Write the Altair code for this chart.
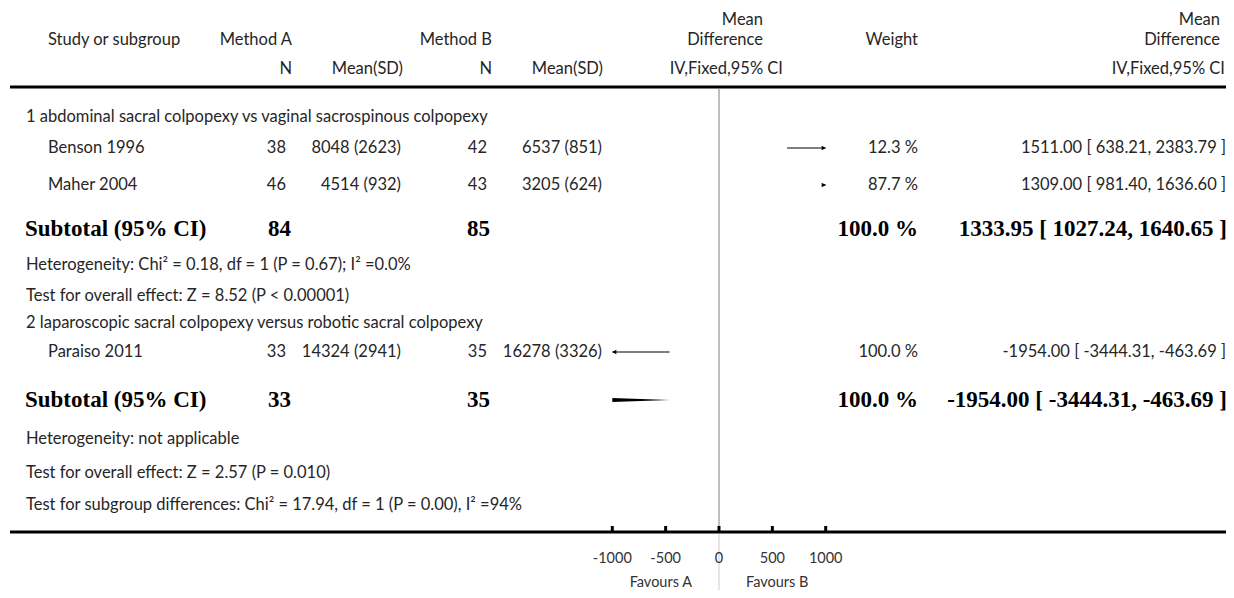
import altair as alt
import pandas as pd

# ---------------- data ----------------
STUDY = ["Benson 1996", "Maher 2004", "Paraiso 2011"]
N_A = [38, 46, 33]
MEANSD_A = ["8048 (2623)", "4514 (932)", "14324 (2941)"]
N_B = [42, 43, 35]
MEANSD_B = ["6537 (851)", "3205 (624)", "16278 (3326)"]
MD = [1511.00, 1309.00, -1954.00]
LO = [638.21, 981.40, -3444.31]
HI = [2383.79, 1636.60, -463.69]
WEIGHT = [12.3, 87.7, 100.0]

SUB_LABEL = ["Subtotal (95% CI)", "Subtotal (95% CI)"]
SUB_N_A = [84, 33]
SUB_N_B = [85, 35]
SUB_WEIGHT = [100.0, 100.0]
SUB_MD = [1333.95, -1954.00]
SUB_LO = [1027.24, -3444.31]
SUB_HI = [1640.65, -463.69]

GROUP_TITLES = ["1 abdominal sacral colpopexy vs vaginal sacrospinous colpopexy",
                "2 laparoscopic sacral colpopexy versus robotic sacral colpopexy"]
HETEROGENEITY = ["Heterogeneity: Chi\u00b2 = 0.18, df = 1 (P = 0.67); I\u00b2 =0.0%",
                 "Heterogeneity: not applicable"]
OVERALL = ["Test for overall effect: Z = 8.52 (P < 0.00001)",
           "Test for overall effect: Z = 2.57 (P = 0.010)"]
SUBGROUP_TEST = "Test for subgroup differences: Chi\u00b2 = 17.94, df = 1 (P = 0.00), I\u00b2 =94%"
TICKS = [-1000, -500, 0, 500, 1000]
XLIM = [-1000, 1000]
FAVOURS = ["Favours A", "Favours B"]

# ---------------- layout (page pixel coordinates) ----------------
OFF = 8
W, H = 1218, 582
STUDY_Y = [148, 185, 352]
SUB_Y = [229, 400]
TITLE_Y = [117, 323]
HET_Y = [265, 439]
OVERALL_Y = [296, 473]
SUBTEST_Y = 505
AXIS_Y = 532
TOP_Y = 87
X_LEFT_SEC, X_LEFT_STUDY = 26, 48
X_NA, X_MA, X_NB, X_MB = 286, 401, 487, 602
X_WT, X_CI = 918, 1226
SANS = "Lato"
SERIF = "Liberation Serif"
FS, FB, FT = 16.5, 23, 14.5
TXT = "#262626"

xscale = alt.Scale(domain=XLIM, range=[612.3 - OFF, 825.7 - OFF], clamp=True)


def p(v):
    return v - OFF


def text_layer(rows, align, font=SANS, size=FS, weight="normal", color=TXT):
    df = pd.DataFrame(rows, columns=["text", "x", "y"])
    df["x"] = df["x"] - OFF
    df["y"] = df["y"] - OFF
    return alt.Chart(df).mark_text(
        align=align, baseline="middle", font=font, fontSize=size,
        fontWeight=weight, color=color
    ).encode(
        x=alt.X("x:Q", scale=None, axis=None),
        y=alt.Y("y:Q", scale=None, axis=None),
        text="text:N",
    )


# header
hdr_left = [["Study or subgroup", 48, 40]]
hdr_right = [["Method A", 292, 40], ["Method B", 492, 40],
             ["N", 292, 69], ["Mean(SD)", 403, 69], ["N", 492, 69], ["Mean(SD)", 603, 69],
             ["Mean", 763, 20], ["Difference", 763, 40], ["IV,Fixed,95% CI", 783, 69],
             ["Weight", X_WT, 40],
             ["Mean", 1220, 20], ["Difference", 1220, 40], ["IV,Fixed,95% CI", 1225, 69]]

left_rows = []
right_rows = []
for i, s in enumerate(STUDY):
    y = STUDY_Y[i]
    left_rows.append([s, X_LEFT_STUDY, y])
    right_rows += [[str(N_A[i]), X_NA, y], [MEANSD_A[i], X_MA, y],
                   [str(N_B[i]), X_NB, y], [MEANSD_B[i], X_MB, y],
                   [f"{WEIGHT[i]:.1f} %", X_WT, y],
                   [f"{MD[i]:.2f} [ {LO[i]:.2f}, {HI[i]:.2f} ]", X_CI, y]]
for g in range(2):
    left_rows += [[GROUP_TITLES[g], X_LEFT_SEC, TITLE_Y[g]],
                  [HETEROGENEITY[g], X_LEFT_SEC, HET_Y[g]],
                  [OVERALL[g], X_LEFT_SEC, OVERALL_Y[g]]]
left_rows.append([SUBGROUP_TEST, X_LEFT_SEC, SUBTEST_Y])

bold_left = []
bold_right = []
for g in range(2):
    y = SUB_Y[g]
    bold_left.append([SUB_LABEL[g], 25, y])
    bold_right += [[str(SUB_N_A[g]), 291, y], [str(SUB_N_B[g]), 490, y],
                   [f"{SUB_WEIGHT[g]:.1f} %", X_WT, y],
                   [f"{SUB_MD[g]:.2f} [ {SUB_LO[g]:.2f}, {SUB_HI[g]:.2f} ]", X_CI + 1, y]]

layers = [
    text_layer(hdr_left, "left"),
    text_layer(hdr_right, "right"),
    text_layer(left_rows, "left"),
    text_layer(right_rows, "right"),
    text_layer(bold_left, "left", SERIF, FB, "bold", "black"),
    text_layer(bold_right, "right", SERIF, FB, "bold", "black"),
]

# horizontal rules (top and axis line)
hl = pd.DataFrame({"y": [p(TOP_Y), p(AXIS_Y)]})
layers.append(alt.Chart(hl).mark_rule(color="black", strokeWidth=3).encode(
    x=alt.value(2), x2=alt.value(W), y=alt.Y("y:Q", scale=None, axis=None)))

# zero line
zero = pd.DataFrame({"v": [0], "y1": [p(TOP_Y + 2)], "y2": [p(AXIS_Y)]})
layers.append(alt.Chart(zero).mark_rule(color="#a8a8a8", strokeWidth=1.5).encode(
    x=alt.X("v:Q", scale=xscale, axis=None),
    y=alt.Y("y1:Q", scale=None, axis=None), y2="y2:Q"))
zero2 = pd.DataFrame({"v": [0], "y1": [p(AXIS_Y + 2)], "y2": [H]})
layers.append(alt.Chart(zero2).mark_rule(color="#dedede", strokeWidth=1.5).encode(
    x=alt.X("v:Q", scale=xscale, axis=None),
    y=alt.Y("y1:Q", scale=None, axis=None), y2="y2:Q"))

# ticks and tick labels
tk = pd.DataFrame({"t": TICKS, "lab": [str(t) for t in TICKS],
                   "y1": p(AXIS_Y - 6), "y2": p(AXIS_Y), "ly": p(559)})
layers.append(alt.Chart(tk).mark_rule(color="black", strokeWidth=3).encode(
    x=alt.X("t:Q", scale=xscale, axis=None),
    y=alt.Y("y1:Q", scale=None, axis=None), y2="y2:Q"))
layers.append(alt.Chart(tk).mark_text(font=SANS, fontSize=FT, color="#333333",
                                      baseline="middle").encode(
    x=alt.X("t:Q", scale=xscale, axis=None),
    y=alt.Y("ly:Q", scale=None, axis=None), text="lab:N"))

fav = pd.DataFrame({"text": FAVOURS, "x": [p(692), p(746)], "y": [p(583), p(583)]})
layers.append(alt.Chart(fav.iloc[[0]]).mark_text(font=SANS, fontSize=FT, color="#333333",
                                                 align="right", baseline="middle").encode(
    x=alt.X("x:Q", scale=None, axis=None), y=alt.Y("y:Q", scale=None, axis=None), text="text:N"))
layers.append(alt.Chart(fav.iloc[[1]]).mark_text(font=SANS, fontSize=FT, color="#333333",
                                                 align="left", baseline="middle").encode(
    x=alt.X("x:Q", scale=None, axis=None), y=alt.Y("y:Q", scale=None, axis=None), text="text:N"))

# study CI lines
ci = pd.DataFrame({"lo": LO, "hi": HI, "y": [p(v) for v in STUDY_Y]})
layers.append(alt.Chart(ci).mark_rule(color="black", strokeWidth=1.2).encode(
    x=alt.X("lo:Q", scale=xscale, axis=None), x2="hi:Q",
    y=alt.Y("y:Q", scale=None, axis=None)))

# arrowheads where the CI runs past the plotted range
right_arr = ci[ci["hi"] > XLIM[1]].assign(v=XLIM[1])
left_arr = ci[ci["lo"] < XLIM[0]].assign(v=XLIM[0])
layers.append(alt.Chart(right_arr).mark_point(shape="triangle-right", filled=True, size=22,
                                              color="black", opacity=1, xOffset=-2).encode(
    x=alt.X("v:Q", scale=xscale, axis=None), y=alt.Y("y:Q", scale=None, axis=None)))
layers.append(alt.Chart(left_arr).mark_point(shape="triangle-left", filled=True, size=22,
                                             color="black", opacity=1, xOffset=2).encode(
    x=alt.X("v:Q", scale=xscale, axis=None), y=alt.Y("y:Q", scale=None, axis=None)))

# subtotal diamonds, clipped to the plotted range
HH = 5.5
drows = []
for g in range(2):
    lo, md, hi, cy = SUB_LO[g], SUB_MD[g], SUB_HI[g], p(SUB_Y[g])
    a, b = max(lo, XLIM[0]), min(hi, XLIM[1])
    if a >= b:
        continue
    xs = sorted({a, b} | {v for v in (md,) if a < v < b})
    for xv in xs:
        h = HH * ((xv - lo) / (md - lo) if xv <= md else (hi - xv) / (hi - md))
        drows.append({"g": g, "x": xv, "top": cy - h, "bot": cy + h})
dia = pd.DataFrame(drows)
layers.append(alt.Chart(dia).mark_area(color="black", opacity=1, line=False).encode(
    x=alt.X("x:Q", scale=xscale, axis=None),
    y=alt.Y("top:Q", scale=None, axis=None), y2="bot:Q", detail="g:N"))

chart = alt.layer(*layers).resolve_scale(x="independent", y="independent").properties(
    width=W, height=H, padding=0, autosize=alt.AutoSizeParams(type="none"),
    background="white"
).configure_view(stroke=None)

chart.save("out.html", embed_options={"renderer": "svg", "actions": False})
